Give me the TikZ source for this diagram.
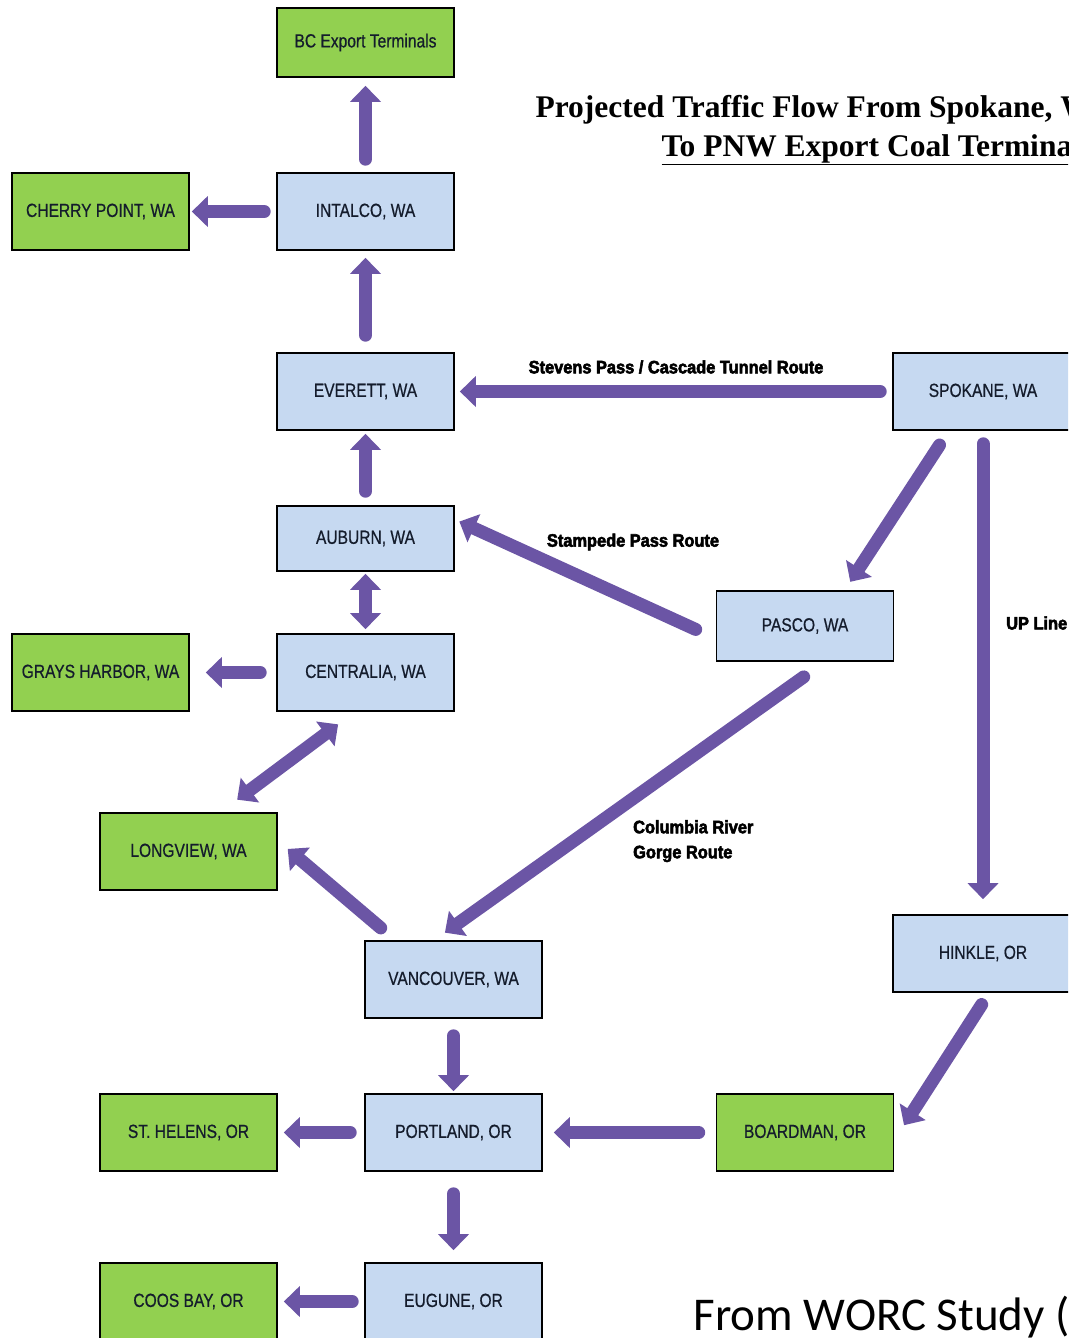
\documentclass[tikz,border=0pt]{standalone}
\usepackage{fontspec}
\setmainfont{Liberation Serif}
\newfontfamily\boxfont[FakeStretch=0.82,FakeBold=0.6]{Liberation Sans}
\newfontfamily\routefont[FakeStretch=0.91,FakeBold=3]{Liberation Sans}
\newfontfamily\notefont{Carlito}
\usetikzlibrary{arrows.meta}
\definecolor{cityblue}{HTML}{C6D9F1}
\definecolor{portgreen}{HTML}{92D050}
\definecolor{flowpurple}{HTML}{6B55A5}
\definecolor{boxtext}{HTML}{141C2C}
\tikzset{flowtip/.tip={Triangle[width=30pt,length=16pt]}}

\begin{document}
\begin{tikzpicture}[x=1pt,y=-1pt,
  city/.style={draw,line width=1.6pt,fill=cityblue,minimum width=177pt,minimum height=77pt,inner sep=0pt,text=boxtext,font=\boxfont\fontsize{19}{22}\selectfont},
  port/.style={city,fill=portgreen},
  flow/.style={-flowtip,line width=13pt,draw=flowpurple,line cap=round},
  twoway/.style={flowtip-flowtip,line width=13pt,draw=flowpurple},
  route/.style={inner sep=0pt,font=\routefont\bfseries\fontsize{18}{25}\selectfont}]
\clip (0,0) rectangle (1068,1338);
% title and source
\node[anchor=base west,font=\bfseries\fontsize{31.5}{36}\selectfont] (title) at (532,117) {Projected Traffic Flow From Spokane, WA};
\node[anchor=base west,font=\bfseries\fontsize{31.5}{36}\selectfont] (subtitle) at (658,156) {\underline{To PNW Export Coal Terminals}};
\node[anchor=base west,font=\notefont\fontsize{47}{52}\selectfont] (source) at (690,1330) {From WORC Study (};
% washington
\node[port,minimum height=69pt] (bc) at (365.5,42.5) {BC Export Terminals};
\node[city] (intalco) at (365.5,211.5) {INTALCO, WA};
\node[port] (cherry) at (100.5,211.5) {CHERRY POINT, WA};
\node[city] (everett) at (365.5,391.5) {EVERETT, WA};
\node[city,minimum width=180pt] (spokane) at (983,391.5) {SPOKANE, WA};
\node[city,minimum height=65pt] (auburn) at (365.5,538.5) {AUBURN, WA};
\node[city,minimum height=70pt] (pasco) at (805,626) {PASCO, WA};
\node[city] (centralia) at (365.5,672.5) {CENTRALIA, WA};
\node[port] (grays) at (100.5,672.5) {GRAYS HARBOR, WA};
\node[port] (longview) at (188.5,851.5) {LONGVIEW, WA};
\node[city] (vancouver) at (453.5,979.5) {VANCOUVER, WA};
% oregon
\node[city,minimum width=180pt] (hinkle) at (983,953.5) {HINKLE, OR};
\node[port] (sthelens) at (188.5,1132.5) {ST. HELENS, OR};
\node[city] (portland) at (453.5,1132.5) {PORTLAND, OR};
\node[port] (boardman) at (805,1132.5) {BOARDMAN, OR};
\node[port] (coos) at (188.5,1301.5) {COOS BAY, OR};
\node[city] (eugune) at (453.5,1301.5) {EUGUNE, OR};
% route labels
\node[route] (stevens) at (676,367) {Stevens Pass / Cascade Tunnel Route};
\node[route] (stampede) at (633,542) {Stampede Pass Route};
\node[route,anchor=west] (upline) at (1006,623) {UP Line};
\node[route,anchor=north west,align=left] (gorge) at (633,820) {Columbia River\\Gorge Route};
% flows
\draw[flow,shorten <=13pt,shorten >=8pt] (intalco.north) -- (bc.south);
\draw[flow,shorten <=12pt,shorten >=2pt] (intalco.west) -- (cherry.east);
\draw[flow,shorten <=17pt,shorten >=7pt] (everett.north) -- (intalco.south);
\draw[flow,shorten <=12pt,shorten >=5pt] (spokane.west) -- (everett.east);
\draw[flow,shorten <=14pt,shorten >=3pt] (auburn.north) -- (everett.south);
\draw[twoway,shorten <=2pt,shorten >=4pt] (auburn.south) -- (centralia.north);
\draw[flow,shorten <=22pt,shorten >=5pt] (pasco.188) -- (auburn.12);
\draw[flow,shorten <=17pt,shorten >=10pt] (spokane.229) -- (pasco.42);
\draw[flow,shorten <=13pt,shorten >=15pt] (spokane.south) -- (hinkle.north);
\draw[flow,shorten <=16pt,shorten >=16pt] (centralia.west) -- (grays.east);
\draw[twoway,shorten <=21pt,shorten >=21pt] (centralia.255) -- (longview.51);
\draw[flow,shorten <=19pt,shorten >=13pt] (vancouver.146) -- (longview.7);
\draw[flow,shorten <=26pt,shorten >=13pt] (pasco.299) -- (vancouver.116);
\draw[flow,shorten <=17pt,shorten >=2pt] (vancouver.south) -- (portland.north);
\draw[flow,shorten <=14pt,shorten >=6pt] (portland.west) -- (sthelens.east);
\draw[flow,shorten <=17pt,shorten >=11pt] (boardman.west) -- (portland.east);
\draw[flow,shorten <=14pt,shorten >=18pt] (hinkle.279) -- (boardman.355);
\draw[flow,shorten <=22pt,shorten >=12pt] (portland.south) -- (eugune.north);
\draw[flow,shorten <=12pt,shorten >=6pt] (eugune.west) -- (coos.east);
\end{tikzpicture}
\end{document}
